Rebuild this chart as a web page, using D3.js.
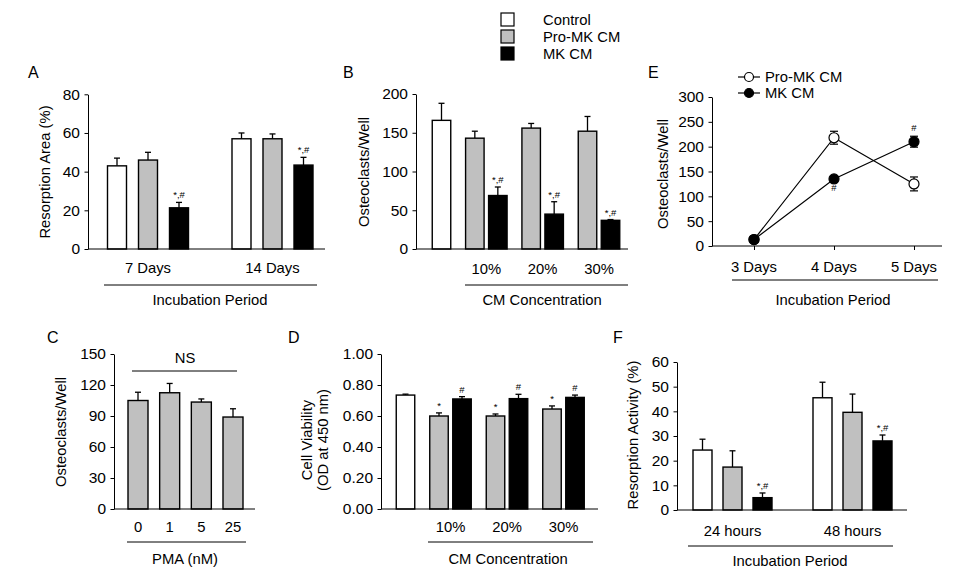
<!DOCTYPE html>
<html><head><meta charset="utf-8">
<script src="https://cdn.jsdelivr.net/npm/d3@7"></script>
<style>
body{margin:0;background:#fff;}
text{font-family:"Liberation Sans",Arial,sans-serif;fill:#000;}
</style></head><body>
<svg id="fig" width="956" height="582"></svg>
<script>
// ---------- Legend ----------
const legendNames = ["Control", "Pro-MK CM", "MK CM"];
const legendFills = ["#ffffff", "#c0c0c0", "#000000"];

// ---------- Panel A ----------
const aGroups = ["7 Days", "14 Days"];
const aControl = [43, 57];      const aControlErr = [4, 3];
const aProMK = [46, 57];        const aProMKErr = [4, 2.5];
const aMK = [21.3, 43.4];       const aMKErr = [2.8, 4];
const aMKMarks = ["*,#", "*,#"];
const aTicks = [0, 20, 40, 60, 80];

// ---------- Panel B ----------
const bGroups = ["", "10%", "20%", "30%"];
const bControl = [166, null, null, null];  const bControlErr = [22, null, null, null];
const bProMK = [null, 143, 156, 152];      const bProMKErr = [null, 9, 6, 19];
const bMK = [null, 69, 45, 37];            const bMKErr = [null, 11, 16, 1];
const bMKMarks = [null, "*,#", "*,#", "*,#"];
const bTicks = [0, 50, 100, 150, 200];

// ---------- Panel C ----------
const cGroups = ["0", "1", "5", "25"];
const cValues = [105, 112.5, 103.5, 89];
const cErr = [8, 9, 3, 8];
const cTicks = [0, 30, 60, 90, 120, 150];

// ---------- Panel D ----------
const dGroups = ["", "10%", "20%", "30%"];
const dControl = [0.735, null, null, null]; const dControlErr = [0.006, null, null, null];
const dProMK = [null, 0.60, 0.60, 0.645];   const dProMKErr = [null, 0.02, 0.013, 0.02];
const dMK = [null, 0.71, 0.712, 0.72];      const dMKErr = [null, 0.015, 0.028, 0.015];
const dProMKMarks = [null, "*", "*", "*"];
const dMKMarks = [null, "#", "#", "#"];
const dTicks = [0, 0.2, 0.4, 0.6, 0.8, 1.0];

// ---------- Panel E ----------
const eDays = ["3 Days", "4 Days", "5 Days"];
const eProMK = [13, 218, 125];  const eProMKErr = [3, 13, 14];
const eMK = [13, 135, 210];     const eMKErr = [3, 5, 11];
const eMKMarks = [null, "#", "#"];
const eTicks = [0, 50, 100, 150, 200, 250, 300];

// ---------- Panel F ----------
const fGroups = ["24 hours", "48 hours"];
const fControl = [24.3, 45.5];  const fControlErr = [4.4, 6.3];
const fProMK = [17.4, 39.6];    const fProMKErr = [6.6, 7.4];
const fMK = [5, 28];            const fMKErr = [1.9, 2.4];
const fMKMarks = ["*,#", "*,#"];
const fTicks = [0, 10, 20, 30, 40, 50, 60];

const svg = d3.select("#fig");
const FS = 14.8;
const TFS = 15.5;
const STROKE = "#000";

function txt(x, y, s, opt = {}) {
  return svg.append("text").attr("x", x).attr("y", y).text(s)
    .attr("font-size", opt.size || FS)
    .attr("text-anchor", opt.anchor || "start")
    .attr("fill", opt.fill || "#000");
}
function rotTxt(x, y, s, size) {
  return svg.append("text").attr("transform", `translate(${x},${y}) rotate(-90)`)
    .attr("text-anchor", "middle").attr("font-size", size || FS).text(s);
}
function hline(x0, x1, y, w) {
  svg.append("line").attr("x1", x0).attr("x2", x1).attr("y1", y).attr("y2", y)
    .attr("stroke", STROKE).attr("stroke-width", w || 1);
}

function yAxis(y, xPos, ticks, fmt) {
  const ax = d3.axisLeft(y).tickValues(ticks).tickSize(3.5).tickSizeOuter(0).tickPadding(4.5);
  if (fmt) ax.tickFormat(fmt);
  const g = svg.append("g").attr("transform", `translate(${xPos},0)`).call(ax);
  g.selectAll("text").attr("font-size", TFS).attr("font-family", '"Liberation Sans",Arial,sans-serif').attr("fill", "#000");
  g.selectAll("path,line").attr("stroke", STROKE).attr("stroke-width", 1);
  return g;
}

// generic grouped bar panel
function barPanel(p) {
  const y = d3.scaleLinear().domain(p.yDomain).range(p.yRange);
  const gx = d3.scalePoint().domain(p.groups).range(p.groupRange);
  const nSlots = p.nSlots;
  const pi = 1 - p.bw / p.pitch;
  const sx = d3.scaleBand().domain(d3.range(nSlots))
    .range([-p.pitch * nSlots / 2, p.pitch * nSlots / 2]).paddingInner(pi).paddingOuter(pi / 2);
  p.series.forEach(s => {
    s.values.forEach((v, i) => {
      if (v == null) return;
      const x = gx(p.groups[i]) + sx(s.slot);
      const cx = x + sx.bandwidth() / 2;
      const top = y(v + s.errs[i]);
      svg.append("line").attr("x1", cx).attr("x2", cx).attr("y1", y(v)).attr("y2", top)
        .attr("stroke", STROKE).attr("stroke-width", 1.3);
      svg.append("line").attr("x1", cx - 3).attr("x2", cx + 3).attr("y1", top).attr("y2", top)
        .attr("stroke", STROKE).attr("stroke-width", 1.3);
      svg.append("rect").attr("x", x).attr("y", y(v)).attr("width", sx.bandwidth())
        .attr("height", y(0) - y(v)).attr("fill", s.fill).attr("stroke", STROKE).attr("stroke-width", 1.4);
      if (s.marks && s.marks[i]) {
        txt(cx, top - 4, s.marks[i], { size: 9.5, anchor: "middle", fill: "#555" });
      }
    });
  });
  yAxis(y, p.axisX[0], p.ticks, p.fmt);
  hline(p.axisX[0], p.axisX[1], y(0), 1);
  p.groups.forEach(g => { if (g) txt(gx(g), p.catY, g, { anchor: "middle" }); });
  return { y, gx };
}

// ---------- Legend ----------
legendNames.forEach((n, i) => {
  const yTop = 13 + i * 17;
  svg.append("rect").attr("x", 501).attr("y", yTop).attr("width", 13).attr("height", 13)
    .attr("fill", legendFills[i]).attr("stroke", "#000").attr("stroke-width", 1.2);
  txt(543, yTop + 12, n);
});

// ---------- Panel A ----------
barPanel({
  groups: aGroups, groupRange: [148, 272.5], nSlots: 3, pitch: 31, bw: 19,
  yDomain: [0, 80], yRange: [249, 94.3], ticks: aTicks, axisX: [88, 325], catY: 273,
  series: [
    { values: aControl, errs: aControlErr, fill: "#fff", slot: 0 },
    { values: aProMK, errs: aProMKErr, fill: "#c0c0c0", slot: 1 },
    { values: aMK, errs: aMKErr, fill: "#000", slot: 2, marks: aMKMarks }
  ]
});
hline(104, 317, 285, 1);
txt(210, 305, "Incubation Period", { anchor: "middle" });
rotTxt(50, 172, "Resorption Area (%)");
txt(28, 78, "A", { size: 16 });

// ---------- Panel B ----------
barPanel({
  groups: bGroups, groupRange: [430, 599], nSlots: 2, pitch: 23, bw: 18.5,
  yDomain: [0, 200], yRange: [249, 94], ticks: bTicks, axisX: [416, 628], catY: 274,
  series: [
    { values: bControl, errs: bControlErr, fill: "#fff", slot: 1 },
    { values: bProMK, errs: bProMKErr, fill: "#c0c0c0", slot: 0 },
    { values: bMK, errs: bMKErr, fill: "#000", slot: 1, marks: bMKMarks }
  ]
});
hline(465, 628, 285, 1);
txt(542, 305, "CM Concentration", { anchor: "middle" });
rotTxt(369, 172, "Osteoclasts/Well");
txt(343, 78, "B", { size: 16 });

// ---------- Panel C ----------
barPanel({
  groups: cGroups, groupRange: [138, 233], nSlots: 1, pitch: 31.7, bw: 20,
  yDomain: [0, 150], yRange: [509, 354], ticks: cTicks, axisX: [114, 255], catY: 532,
  series: [{ values: cValues, errs: cErr, fill: "#c0c0c0", slot: 0 }]
});
txt(185, 363, "NS", { anchor: "middle" });
hline(132, 237, 371, 1);
hline(127, 246, 542, 1);
txt(185, 564, "PMA (nM)", { anchor: "middle" });
rotTxt(66, 432, "Osteoclasts/Well");
txt(47, 343, "C", { size: 16 });

// ---------- Panel D ----------
barPanel({
  groups: dGroups, groupRange: [394, 563.5], nSlots: 2, pitch: 23, bw: 18.5,
  yDomain: [0, 1], yRange: [509, 354], ticks: dTicks, fmt: d3.format(".2f"), axisX: [381, 598], catY: 532,
  series: [
    { values: dControl, errs: dControlErr, fill: "#fff", slot: 1 },
    { values: dProMK, errs: dProMKErr, fill: "#c0c0c0", slot: 0, marks: dProMKMarks },
    { values: dMK, errs: dMKErr, fill: "#000", slot: 1, marks: dMKMarks }
  ]
});
hline(428, 593, 542, 1);
txt(508, 564, "CM Concentration", { anchor: "middle" });
rotTxt(312, 440, "Cell Viability");
rotTxt(328, 440, "(OD at 450 nm)");
txt(288, 343, "D", { size: 16 });

// ---------- Panel E ----------
(function () {
  const y = d3.scaleLinear().domain([0, 300]).range([246, 97]);
  const x = d3.scalePoint().domain(eDays).range([754, 914]);
  yAxis(y, 712, eTicks);
  hline(712, 942, y(0), 1);
  const xa = svg.append("g").attr("transform", `translate(0,${y(0)})`)
    .call(d3.axisBottom(x).tickSize(4).tickSizeOuter(0).tickFormat(""));
  xa.select(".domain").remove();
  xa.selectAll("line").attr("stroke", STROKE);
  eDays.forEach(d => txt(x(d), 272, d, { anchor: "middle" }));
  hline(732, 938, 280, 1);
  txt(833, 305, "Incubation Period", { anchor: "middle" });
  rotTxt(668, 174, "Osteoclasts/Well");
  txt(648, 78, "E", { size: 16 });

  const line = d3.line().x((d, i) => x(eDays[i])).y(d => y(d));
  const ser = [
    { v: eProMK, e: eProMKErr, fill: "#fff" },
    { v: eMK, e: eMKErr, fill: "#000" }
  ];
  ser.forEach(s => {
    svg.append("path").attr("d", line(s.v)).attr("fill", "none").attr("stroke", STROKE).attr("stroke-width", 1.2);
  });
  ser.forEach(s => {
    s.v.forEach((v, i) => {
      const cx = x(eDays[i]);
      const t = y(v + s.e[i]), b = y(v - s.e[i]);
      svg.append("line").attr("x1", cx).attr("x2", cx).attr("y1", t).attr("y2", b).attr("stroke", STROKE).attr("stroke-width", 1.2);
      [t, b].forEach(yy => svg.append("line").attr("x1", cx - 4).attr("x2", cx + 4).attr("y1", yy).attr("y2", yy).attr("stroke", STROKE).attr("stroke-width", 1.2));
    });
  });
  ser.forEach(s => {
    s.v.forEach((v, i) => {
      svg.append("circle").attr("cx", x(eDays[i])).attr("cy", y(v)).attr("r", 5)
        .attr("fill", s.fill).attr("stroke", STROKE).attr("stroke-width", 1.2);
    });
  });
  eMKMarks.forEach((m, i) => {
    if (!m) return;
    const v = eMK[i];
    const above = eMK[i] > eProMK[i];
    const yy = above ? y(v + eMKErr[i]) - 5 : y(v - eMKErr[i]) + 10;
    txt(x(eDays[i]), yy, m, { size: 9.5, anchor: "middle", fill: "#555" });
  });
  // legend
  const lg = [["Pro-MK CM", "#fff", 77], ["MK CM", "#000", 93]];
  lg.forEach(([n, f, yy]) => {
    hline(738, 760, yy, 1.2);
    svg.append("circle").attr("cx", 749).attr("cy", yy).attr("r", 4.5).attr("fill", f).attr("stroke", STROKE).attr("stroke-width", 1.2);
    txt(765, yy + 5, n);
  });
})();

// ---------- Panel F ----------
barPanel({
  groups: fGroups, groupRange: [732.5, 852.5], nSlots: 3, pitch: 30, bw: 19,
  yDomain: [0, 60], yRange: [510, 362], ticks: fTicks, axisX: [677, 907], catY: 536,
  series: [
    { values: fControl, errs: fControlErr, fill: "#fff", slot: 0 },
    { values: fProMK, errs: fProMKErr, fill: "#c0c0c0", slot: 1 },
    { values: fMK, errs: fMKErr, fill: "#000", slot: 2, marks: fMKMarks }
  ]
});
hline(688, 893, 546, 1);
txt(790, 566, "Incubation Period", { anchor: "middle" });
rotTxt(638, 435, "Resorption Activity (%)");
txt(613, 343, "F", { size: 16 });
</script>
</body></html>
